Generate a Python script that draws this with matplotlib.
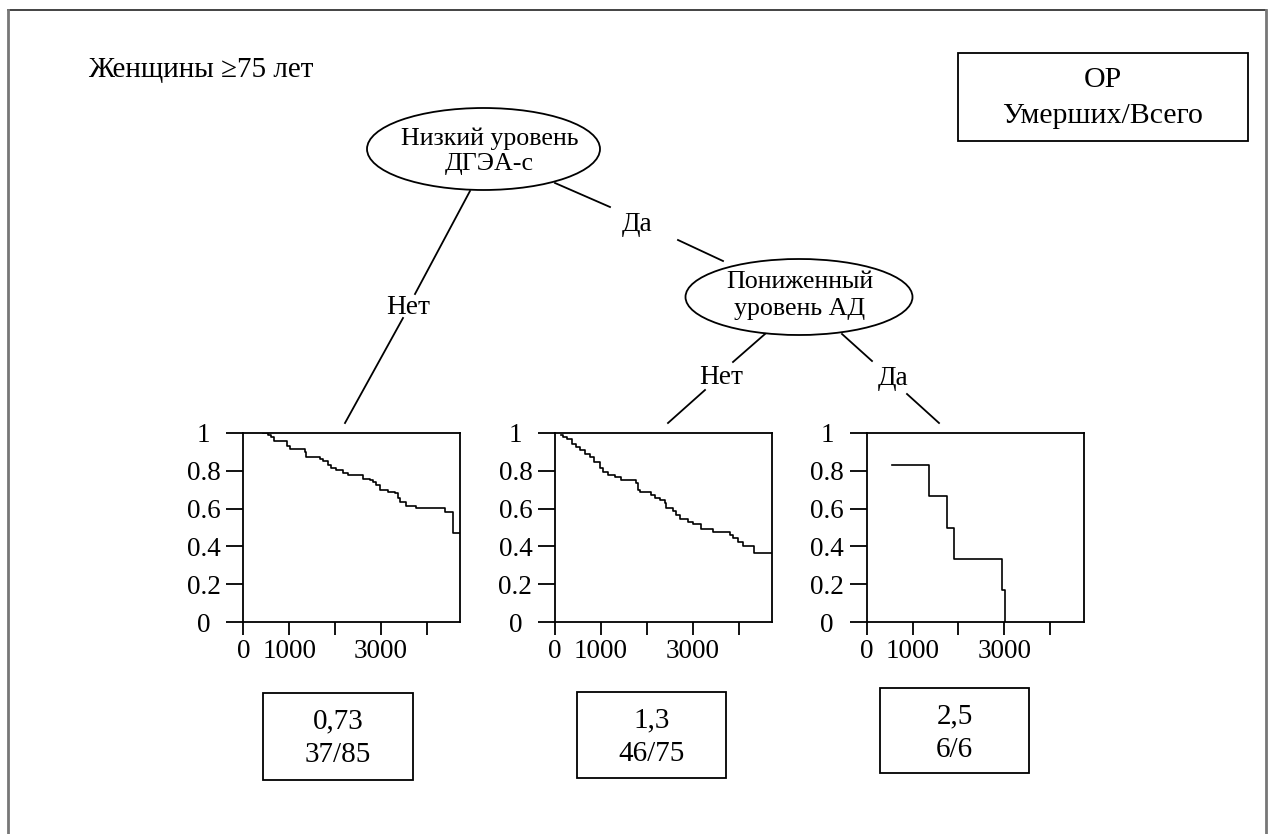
import numpy as np
import matplotlib
matplotlib.use("Agg")
import matplotlib.pyplot as plt
from matplotlib.patches import Ellipse, Rectangle

plt.rcParams['font.family'] = ['Liberation Serif', 'DejaVu Serif']

# Kaplan-Meier curves (time in days, survival share)
t_no = [435, 543, 594, 674, 942, 1014, 1341, 1377, 1667, 1739, 1848, 1920, 2029, 2174,
        2283, 2609, 2754, 2826, 2899, 2971, 3152, 3297, 3370, 3406, 3551, 3768, 4399, 4580, 4720]
s_no = [1.0, 0.988, 0.979, 0.956, 0.933, 0.915, 0.899, 0.873, 0.862, 0.85, 0.832, 0.814, 0.802, 0.791,
        0.779, 0.756, 0.752, 0.742, 0.726, 0.699, 0.69, 0.681, 0.658, 0.637, 0.614, 0.602, 0.584, 0.469, 0.469]

t_yes_no = [130, 181, 268, 362, 457, 543, 652, 761, 855, 978, 1051, 1159, 1304, 1449, 1775, 1812,
            1848, 2101, 2174, 2283, 2391, 2428, 2572, 2645, 2717, 2899, 3007, 3188, 3442, 3804, 3877,
            3986, 4094, 4348, 4720]
s_yes_no = [0.99, 0.979, 0.968, 0.943, 0.924, 0.912, 0.888, 0.873, 0.844, 0.814, 0.796, 0.779, 0.766,
            0.749, 0.738, 0.696, 0.687, 0.673, 0.655, 0.646, 0.628, 0.602, 0.589, 0.566, 0.545, 0.531,
            0.519, 0.492, 0.478, 0.46, 0.446, 0.425, 0.404, 0.366, 0.366]

t_yes_yes = [543, 1355, 1746, 1906, 2957, 3007]
s_yes_yes = [0.833, 0.667, 0.5, 0.333, 0.167, 0.0]

rr = ["0,73", "1,3", "2,5"]
deaths = ["37/85", "46/75", "6/6"]

x_ticks = [0, 1000, 2000, 3000, 4000]
x_labels = ["0", "1000", "", "3000", ""]
y_ticks = [0, 0.2, 0.4, 0.6, 0.8, 1]
y_labels = ["0", "0.2", "0.4", "0.6", "0.8", "1"]

W, H = 1273, 834
fs = 21
fs_node = 18.7
fs_edge = 19.6
fs_tick = 19.5
fig = plt.figure(figsize=(W / 100, H / 100), dpi=100)

# overlay in pixel coordinates for the tree
ov = fig.add_axes([0, 0, 1, 1])
ov.set_xlim(0, W)
ov.set_ylim(H, 0)
ov.axis("off")

lw = 1.3
# outer frame
ov.plot([8, 1266], [10, 10], color="#222222", lw=1.2)
ov.plot([8, 8], [10, H], color="#777777", lw=2)
ov.plot([1266, 1266], [10, H], color="#777777", lw=2)

ov.text(88, 70, "Женщины ≥75 лет", fontsize=fs, ha="left", va="center")

ov.add_patch(Rectangle((958, 53), 290, 88, fill=False, lw=lw, ec="black"))
ov.text(1103, 80, "ОР", fontsize=21.5, ha="center", va="center")
ov.text(1103, 116, "Умерших/Всего", fontsize=21.5, ha="center", va="center")

# nodes
ov.add_patch(Ellipse((483.5, 149), 233, 82, fill=False, lw=lw, ec="black"))
ov.text(490, 139, "Низкий уровень", fontsize=fs_node, ha="center", va="center")
ov.text(489, 164, "ДГЭА-с", fontsize=fs_node, ha="center", va="center")

ov.add_patch(Ellipse((799, 297), 227, 76, fill=False, lw=lw, ec="black"))
ov.text(800, 282, "Пониженный", fontsize=fs_node, ha="center", va="center")
ov.text(800, 309, "уровень АД", fontsize=fs_node, ha="center", va="center")

# edges
edges = [
    ((470, 191), (415, 294), (403, 318), (345, 423), (408, 307), "Нет"),
    ((555, 183), (610, 207), (678, 240), (723, 261), (637, 224), "Да"),
    ((765, 334), (733, 362), (705, 390), (668, 423), (721, 377), "Нет"),
    ((842, 334), (872, 361), (907, 394), (939, 423), (893, 378), "Да"),
]
for a, b, c, d, lab, txt in edges:
    ov.plot([a[0], b[0]], [a[1], b[1]], color="black", lw=lw)
    ov.plot([c[0], d[0]], [c[1], d[1]], color="black", lw=lw)
    ov.text(lab[0], lab[1], txt, fontsize=fs_edge, ha="center", va="center")

# result boxes
boxes = [(263, 693, 150, 87), (577, 692, 149, 86), (880, 688, 149, 85)]
for (bx, by, bw, bh), r, d in zip(boxes, rr, deaths):
    ov.add_patch(Rectangle((bx, by), bw, bh, fill=False, lw=lw, ec="black"))
    ov.text(bx + bw / 2, by + 28, r, fontsize=fs, ha="center", va="center")
    ov.text(bx + bw / 2, by + 62, d, fontsize=fs, ha="center", va="center")

# survival plots
curves = [(t_no, s_no), (t_yes_no, s_yes_no), (t_yes_yes, s_yes_yes)]
lefts = [243.3, 555, 866.7]
for left, (t, s) in zip(lefts, curves):
    ax = fig.add_axes([left / W, 1 - 622 / H, 217 / W, 189 / H])
    ax.step(t, s, where="post", color="black", lw=1.2)
    ax.set_xlim(0, 4730)
    ax.set_ylim(0, 1)
    ax.set_xticks(x_ticks)
    ax.set_xticklabels(x_labels)
    ax.set_yticks(y_ticks)
    ax.set_yticklabels(y_labels, ha="center")
    ax.tick_params(axis="y", direction="out", length=12, width=lw, labelsize=fs_tick, pad=16.5)
    ax.tick_params(axis="x", direction="out", length=9.5, width=lw, labelsize=fs_tick, pad=3)
    for sp in ax.spines.values():
        sp.set_linewidth(lw)

fig.savefig("out.png", dpi=100)
